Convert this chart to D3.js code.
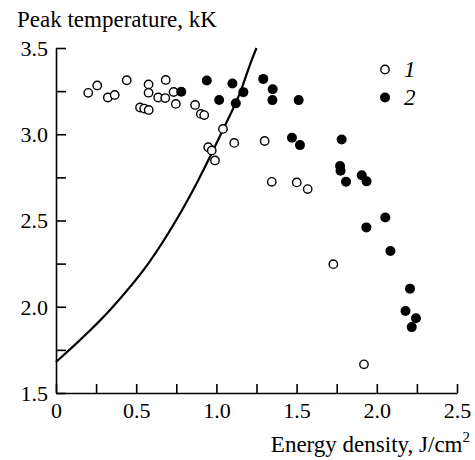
<!DOCTYPE html>
<html><head><meta charset="utf-8">
<script src="https://cdn.jsdelivr.net/npm/d3@7"></script>
<style>
body{margin:0;background:#fff;}
</style></head>
<body><svg id="c" width="475" height="460"></svg>
<script>
// Series 1 (open circles)
const s1E = [0.201,0.257,0.323,0.366,0.441,0.524,0.550,0.578,0.577,0.577,0.637,0.681,0.684,0.733,0.747,0.867,0.903,0.924,0.949,0.971,0.991,1.041,1.111,1.301,1.345,1.501,1.569,1.729,1.920];
const s1T = [3.240,3.283,3.213,3.228,3.313,3.155,3.149,3.141,3.289,3.241,3.213,3.210,3.315,3.245,3.176,3.170,3.118,3.111,2.925,2.906,2.848,3.031,2.950,2.961,2.724,2.721,2.682,2.247,1.666];
// Series 2 (filled circles)
const s2E = [0.781,0.940,1.017,1.100,1.168,1.121,1.292,1.351,1.349,1.513,1.471,1.521,1.781,1.771,1.774,1.808,1.906,1.936,2.053,1.935,2.085,2.207,2.179,2.244,2.218];
const s2T = [3.246,3.312,3.199,3.294,3.244,3.179,3.321,3.261,3.198,3.198,2.980,2.937,2.970,2.816,2.788,2.725,2.762,2.727,2.517,2.460,2.323,2.105,1.975,1.933,1.882];
// Solid curve
const curveE = [0,0.355,0.575,0.748,0.887,1.043,1.147,1.22,1.25];
const curveT = [1.68,2.0,2.25,2.5,2.734,3.03,3.24,3.43,3.5];
// Ticks
const xTicks = [0,0.25,0.5,0.75,1.0,1.25,1.5,1.75,2.0,2.25,2.5];
const xTickLabels = {"0":"0","0.5":"0.5","1":"1.0","1.5":"1.5","2":"2.0","2.5":"2.5"};
const yTicks = [1.5,1.75,2.0,2.25,2.5,2.75,3.0,3.25,3.5];
const yTickLabels = {"1.5":"1.5","2":"2.0","2.5":"2.5","3":"3.0","3.5":"3.5"};
const legendLabels = ["1","2"];
const yTitle = "Peak temperature, kK";
const xTitle = "Energy density, J/cm";

const FF = '"Liberation Serif","Times New Roman",Times,"DejaVu Serif",serif';
const svg = d3.select("#c");
const x = d3.scaleLinear().domain([0,2.5]).range([56,457]);
const y = d3.scaleLinear().domain([1.5,3.5]).range([393,48]);

const xa = svg.append("g").attr("transform","translate(0,393)")
  .call(d3.axisBottom(x).tickValues(xTicks).tickSize(-9).tickSizeOuter(0).tickPadding(9)
    .tickFormat(d => xTickLabels[String(d)] || ""));
const ya = svg.append("g").attr("transform","translate(56,0)")
  .call(d3.axisLeft(y).tickValues(yTicks).tickSize(-10).tickSizeOuter(0).tickPadding(8)
    .tickFormat(d => yTickLabels[String(d)] || ""));
[xa,ya].forEach(a=>{
  a.attr("font-family",FF).attr("font-size",22);
  a.selectAll("path,line").attr("stroke","#000").attr("stroke-width",1.6);
  a.selectAll("text").attr("fill","#000");
});
ya.selectAll("text").attr("dy","0.34em");

// curve
const pts = curveE.map((e,i)=>[e,curveT[i]]);
svg.append("path").datum(pts)
  .attr("d", d3.line().x(d=>x(d[0])).y(d=>y(d[1])).curve(d3.curveMonotoneX))
  .attr("fill","none").attr("stroke","#000").attr("stroke-width",2.2);

// series
const d1 = s1E.map((e,i)=>({e, t:s1T[i]}));
const d2 = s2E.map((e,i)=>({e, t:s2T[i]}));
svg.append("g").selectAll("circle").data(d1).join("circle")
  .attr("cx",d=>x(d.e)).attr("cy",d=>y(d.t)).attr("r",4.2)
  .attr("fill","#fff").attr("stroke","#000").attr("stroke-width",1.4);
svg.append("g").selectAll("circle").data(d2).join("circle")
  .attr("cx",d=>x(d.e)).attr("cy",d=>y(d.t)).attr("r",5)
  .attr("fill","#000");

// legend
const lg = svg.append("g").attr("font-family",FF);
lg.append("circle").attr("cx",385).attr("cy",69.5).attr("r",4.2).attr("fill","#fff").attr("stroke","#000").attr("stroke-width",1.4);
lg.append("circle").attr("cx",385).attr("cy",97.5).attr("r",5).attr("fill","#000");
lg.selectAll("text").data(legendLabels).join("text")
  .attr("x",404).attr("y",(d,i)=>69.5+i*28).attr("dy","0.34em")
  .attr("font-size",23).attr("font-style","italic").text(d=>d);

// titles
svg.append("text").attr("font-family",FF).attr("x",17).attr("y",27).attr("font-size",23).text(yTitle);
const xt = svg.append("text").attr("font-family",FF).attr("x",470).attr("y",452)
  .attr("text-anchor","end").attr("font-size",23);
xt.append("tspan").text(xTitle);
xt.append("tspan").attr("dy",-10).attr("font-size",15).text("2");
</script></body></html>
